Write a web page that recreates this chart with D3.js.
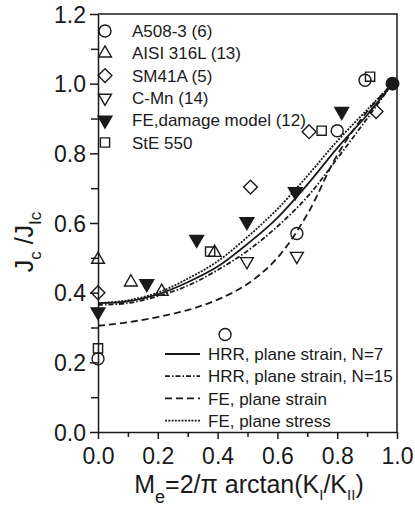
<!DOCTYPE html>
<html>
<head>
<meta charset="utf-8">
<script src="https://cdn.jsdelivr.net/npm/d3@7"></script>
<style>
  body { margin: 0; background: #fff; }
  svg { font-family: "Liberation Sans", Arial, sans-serif; }
</style>
</head>
<body>
<script>
// measured points, [Me, Jc/JIc]
const a508 = [[0, 0.21], [0.425, 0.28], [0.665, 0.57], [0.80, 0.865], [0.893, 1.01]]
const aisi316 = [[0, 0.495], [0.11, 0.43], [0.213, 0.403], [0.39, 0.515]]
const sm41a = [[0, 0.40], [0.51, 0.703], [0.706, 0.862], [0.93, 0.92]]
const cmn = [[0.498, 0.49], [0.665, 0.505]]
const feDamage = [[0, 0.345], [0.163, 0.426], [0.33, 0.553], [0.498, 0.604], [0.66, 0.69], [0.815, 0.92]]
const ste550 = [[0, 0.24], [0.375, 0.518], [0.748, 0.865], [0.91, 1.02]]
const endPoint = [[0.985, 1.0]]

// model curves
const hrrN7 = [[0, 0.37], [0.1, 0.375], [0.2, 0.395], [0.3, 0.43], [0.4, 0.475], [0.5, 0.54], [0.6, 0.615], [0.7, 0.71], [0.8, 0.815], [0.9, 0.91], [0.985, 1.0]]
const hrrN15 = [[0, 0.365], [0.1, 0.37], [0.2, 0.39], [0.3, 0.42], [0.4, 0.465], [0.5, 0.52], [0.6, 0.59], [0.7, 0.675], [0.8, 0.785], [0.9, 0.9], [0.985, 1.0]]
const fePlaneStrain = [[0, 0.305], [0.1, 0.315], [0.2, 0.33], [0.3, 0.35], [0.4, 0.38], [0.5, 0.425], [0.6, 0.50], [0.7, 0.625], [0.8, 0.795], [0.9, 0.92], [0.985, 1.0]]
const fePlaneStress = [[0, 0.37], [0.1, 0.378], [0.2, 0.40], [0.3, 0.44], [0.4, 0.49], [0.5, 0.56], [0.6, 0.64], [0.7, 0.735], [0.8, 0.835], [0.9, 0.925], [0.985, 1.0]]

const pointLabels = ["A508-3 (6)", "AISI 316L (13)", "SM41A (5)", "C-Mn (14)", "FE,damage model (12)", "StE 550"]
const lineLabels = ["HRR, plane strain, N=7", "HRR, plane strain, N=15", "FE, plane strain", "FE, plane stress"]
const xTicks = [0, 0.2, 0.4, 0.6, 0.8, 1.0]
const yTicks = [0, 0.2, 0.4, 0.6, 0.8, 1.0, 1.2]

const width = 415
const height = 508
const ink = "#1a1a1a"

const svg = d3.select("body").append("svg")
    .attr("width", width)
    .attr("height", height)

const x = d3.scaleLinear().domain([0, 1]).range([98, 397])
const y = d3.scaleLinear().domain([0, 1.2]).range([432, 14])

// marker shapes
const markers = [
    { data: a508, path: d3.symbol(d3.symbolCircle, 113)(), rot: 0, fill: "none" },
    { data: aisi316, path: d3.symbol(d3.symbolTriangle, 72)(), rot: 0, fill: "none" },
    { data: sm41a, path: d3.symbol(d3.symbolSquare, 95)(), rot: 45, fill: "none" },
    { data: cmn, path: d3.symbol(d3.symbolTriangle, 72)(), rot: 180, fill: "none" },
    { data: feDamage, path: d3.symbol(d3.symbolTriangle, 82)(), rot: 180, fill: ink },
    { data: ste550, path: d3.symbol(d3.symbolSquare, 85)(), rot: 0, fill: "none" },
]

const lines = [
    { data: hrrN7, dash: null },
    { data: hrrN15, dash: "5,2,1.5,2" },
    { data: fePlaneStrain, dash: "7,4" },
    { data: fePlaneStress, dash: "2,1.3" },
]

// frame: top and right border
svg.append("path")
    .attr("d", `M${x(0)},${y(1.2)}H${x(1)}V${y(0)}`)
    .attr("fill", "none")
    .attr("stroke", ink)
    .attr("stroke-width", 1.5)

// axes
const yAxis = svg.append("g")
    .attr("transform", `translate(${x(0)},0)`)
    .call(d3.axisLeft(y).tickValues(yTicks).tickFormat(d3.format(".1f")).tickSize(8).tickPadding(4).tickSizeOuter(0))
svg.append("g")
    .attr("transform", `translate(${x(0)},0)`)
    .call(d3.axisLeft(y).tickValues([0.1, 0.3, 0.5, 0.7, 0.9, 1.1]).tickFormat("").tickSize(7).tickSizeOuter(0))
    .select(".domain").remove()

const xAxis = svg.append("g")
    .attr("transform", `translate(0,${y(0)})`)
    .call(d3.axisBottom(x).tickValues(xTicks).tickFormat(d3.format(".1f")).tickSize(7).tickPadding(9).tickSizeOuter(0))
svg.append("g")
    .attr("transform", `translate(0,${y(0)})`)
    .call(d3.axisBottom(x).tickValues([0.1, 0.3, 0.5, 0.7, 0.9]).tickFormat("").tickSize(5).tickSizeOuter(0))
    .select(".domain").remove()

svg.selectAll(".domain, .tick line").attr("stroke", ink).attr("stroke-width", 1.5)
svg.selectAll(".tick text").attr("fill", ink).attr("font-size", 23).attr("font-family", "Liberation Sans, Arial, sans-serif")
yAxis.selectAll(".tick text").attr("dy", "0.36em")

// axis titles
svg.append("text")
    .attr("transform", `translate(33,242) rotate(-90)`)
    .attr("text-anchor", "middle")
    .attr("fill", ink)
    .attr("font-size", 25)
    .call(t => {
        t.append("tspan").text("J")
        t.append("tspan").attr("font-size", 17).attr("dy", 8).text("c")
        t.append("tspan").attr("dy", -8).text(" /J")
        t.append("tspan").attr("font-size", 17).attr("dy", 8).text("Ic")
    })

svg.append("text")
    .attr("x", 249)
    .attr("y", 493)
    .attr("text-anchor", "middle")
    .attr("fill", ink)
    .attr("font-size", 25)
    .call(t => {
        t.append("tspan").text("M")
        t.append("tspan").attr("font-size", 18).attr("dy", 10).text("e")
        t.append("tspan").attr("dy", -10).text("=2/π arctan(K")
        t.append("tspan").attr("font-size", 15).attr("dy", 7).text("I")
        t.append("tspan").attr("dy", -7).text("/K")
        t.append("tspan").attr("font-size", 15).attr("dy", 7).text("II")
        t.append("tspan").attr("dy", -7).text(")")
    })

// curves
const lineGen = d3.line().x(d => x(d[0])).y(d => y(d[1])).curve(d3.curveCatmullRom)
svg.append("g")
    .selectAll("path")
    .data(lines)
    .join("path")
    .attr("d", d => lineGen(d.data))
    .attr("fill", "none")
    .attr("stroke", ink)
    .attr("stroke-width", 1.8)
    .attr("stroke-dasharray", d => d.dash)

// data points
markers.forEach(m => {
    svg.append("g")
        .selectAll("path")
        .data(m.data)
        .join("path")
        .attr("d", m.path)
        .attr("transform", d => `translate(${x(d[0])},${y(d[1])}) rotate(${m.rot})`)
        .attr("fill", m.fill)
        .attr("stroke", ink)
        .attr("stroke-width", 1.4)
})

svg.append("g")
    .selectAll("circle")
    .data(endPoint)
    .join("circle")
    .attr("cx", d => x(d[0]))
    .attr("cy", d => y(d[1]))
    .attr("r", 7)
    .attr("fill", ink)

// legend for points
const legendTop = svg.append("g")
    .selectAll("g")
    .data(pointLabels)
    .join("g")
    .attr("transform", (d, i) => `translate(105,${31 + i * 22.3})`)
legendTop.append("path")
    .attr("d", (d, i) => markers[i].path)
    .attr("transform", (d, i) => `rotate(${markers[i].rot})`)
    .attr("fill", (d, i) => markers[i].fill)
    .attr("stroke", ink)
    .attr("stroke-width", 1.4)
legendTop.append("text")
    .attr("x", 27)
    .attr("dy", "0.36em")
    .attr("fill", ink)
    .attr("font-size", 17)
    .text(d => d)

// legend for curves
const legendBottom = svg.append("g")
    .selectAll("g")
    .data(lineLabels)
    .join("g")
    .attr("transform", (d, i) => `translate(165,${354 + i * 22.2})`)
legendBottom.append("line")
    .attr("x2", 35)
    .attr("stroke", ink)
    .attr("stroke-width", 1.8)
    .attr("stroke-dasharray", (d, i) => lines[i].dash)
legendBottom.append("text")
    .attr("x", 43)
    .attr("dy", "0.36em")
    .attr("fill", ink)
    .attr("font-size", 17)
    .text(d => d)
</script>
</body>
</html>
